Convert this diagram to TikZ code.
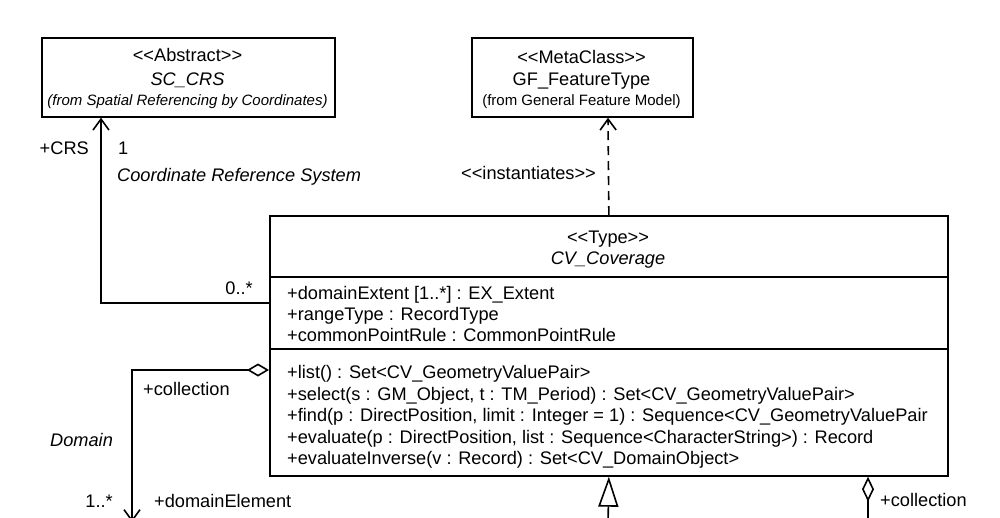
\documentclass[tikz,border=0pt]{standalone}
\usepackage{fontspec}
\setmainfont{Liberation Sans}
\usetikzlibrary{arrows.meta}
\newcommand\stereo[1]{<{}<#1>{}>}
\begin{document}
\begin{tikzpicture}[x=1pt,y=-1pt,
  umlbox/.style={draw, line width=1.7pt, inner sep=0pt, anchor=north west},
  txt/.style={font=\fontsize{18.2}{21}\selectfont, inner sep=0pt, text height=13pt, text depth=0pt},
  smalltxt/.style={font=\fontsize{15}{18}\selectfont, inner sep=0pt, text height=11pt, text depth=0pt},
  conn/.style={line width=1.6pt},
  barb/.style={-{Straight Barb[length=11pt,width=16pt,line width=1.6pt]}},
  dashline/.style={dash pattern=on 9pt off 6pt},
]
\useasboundingbox (0,0) rectangle (1000,517);
\clip (0,0) rectangle (1000,517);
\fill[white] (0,0) rectangle (1000,517);

% SC_CRS
\node[umlbox, minimum width=293pt, minimum height=79pt] (crs) at (41,37) {};
\node[txt] (crs1) at (187.5,55) {\stereo{Abstract}};
\node[txt, font=\fontsize{18.2}{21}\selectfont\itshape] (crs2) at (187.5,79) {SC\_CRS};
\node[smalltxt, font=\fontsize{15}{18}\selectfont\itshape] (crs3) at (187.5,100) {(from Spatial Referencing by Coordinates)};

% GF_FeatureType
\node[umlbox, minimum width=221pt, minimum height=79pt] (gf) at (471,37) {};
\node[txt] (gf1) at (581.5,57) {\stereo{MetaClass}};
\node[txt] (gf2) at (581.5,79) {GF\_FeatureType};
\node[smalltxt] (gf3) at (581.5,100) {(from General Feature Model)};

% CV_Coverage
\node[umlbox, minimum width=678pt, minimum height=260pt] (cov) at (269,215) {};
\draw[line width=1.7pt] (269,277) -- (947,277) (269,349) -- (947,349);
\node[txt] (cov1) at (608,237) {\stereo{Type}};
\node[txt, font=\fontsize{18.2}{21}\selectfont\itshape] (cov2) at (608,258) {CV\_Coverage};
\node[txt, anchor=west] (a1) at (287,293) {+domainExtent [1..*] : EX\_Extent};
\node[txt, anchor=west] (a2) at (287,314) {+rangeType : RecordType};
\node[txt, anchor=west] (a3) at (287,335) {+commonPointRule : CommonPointRule};
\node[txt, anchor=west] (o1) at (287,372) {+list() : Set<CV\_GeometryValuePair>};
\node[txt, anchor=west] (o2) at (287,393.5) {+select(s : GM\_Object, t : TM\_Period) : Set<CV\_GeometryValuePair>};
\node[txt, anchor=west] (o3) at (287,415) {+find(p : DirectPosition, limit : Integer = 1) : Sequence<CV\_GeometryValuePair};
\node[txt, anchor=west] (o4) at (287,436.5) {+evaluate(p : DirectPosition, list : Sequence<CharacterString>) : Record};
\node[txt, anchor=west] (o5) at (287,458) {+evaluateInverse(v : Record) : Set<CV\_DomainObject>};

% coordinates
\coordinate (crsEnd) at (crs.south -| 101,0);
\coordinate (covCrs) at (cov.west |- 0,303);
\coordinate (gfEnd) at (gf.south -| 608,0);
\coordinate (covTop) at (cov.north);
\coordinate (covAgg) at (cov.west |- 0,370);
\coordinate (domEnd) at (132,522);
\coordinate (genStart) at (608,525);
\coordinate (covBot) at (cov.south);
\coordinate (covAgg2) at (cov.south -| 868,0);
\coordinate (colEnd) at (868,525);

% Coordinate Reference System association
\draw[conn, barb] (covCrs) -| (crsEnd);
\node[txt, anchor=east] (lcrs) at (89,148) {+CRS};
\node[txt, anchor=west] (lone) at (118,148) {1};
\node[txt, anchor=west, font=\fontsize{18.2}{21}\selectfont\itshape] (lcrsname) at (117,175) {Coordinate Reference System};
\node[txt, anchor=east] (lzero) at (253,288) {0..*};

% instantiates
\draw[conn, dashline, barb] (covTop) -- (gfEnd);
\node[txt, anchor=east] (linst) at (596,173) {\stereo{instantiates}};

% Domain aggregation
\draw[conn, {Diamond[open,length=22pt,width=13pt,line width=1.6pt,fill=white]}-{Straight Barb[length=11pt,width=16pt,line width=1.6pt]}] (covAgg) -| (domEnd);
\node[txt, anchor=west] (lcoll) at (143,389) {+collection};
\node[txt, anchor=west, font=\fontsize{18.2}{21}\selectfont\itshape] (ldom) at (50,440) {Domain};
\node[txt, anchor=east] (lmult) at (113,501) {1..*};
\node[txt, anchor=west] (ldel) at (154,501) {+domainElement};

% Generalization
\draw[conn, -{Triangle[open,length=30pt,width=20pt,line width=1.6pt,fill=white]}] (genStart) -- (covBot);

% right aggregation
\draw[conn, {Diamond[open,length=25pt,width=12pt,line width=1.6pt,fill=white]}-] (covAgg2) -- (colEnd);
\node[txt, anchor=west] (lcoll2) at (880,500) {+collection};
\end{tikzpicture}
\end{document}
